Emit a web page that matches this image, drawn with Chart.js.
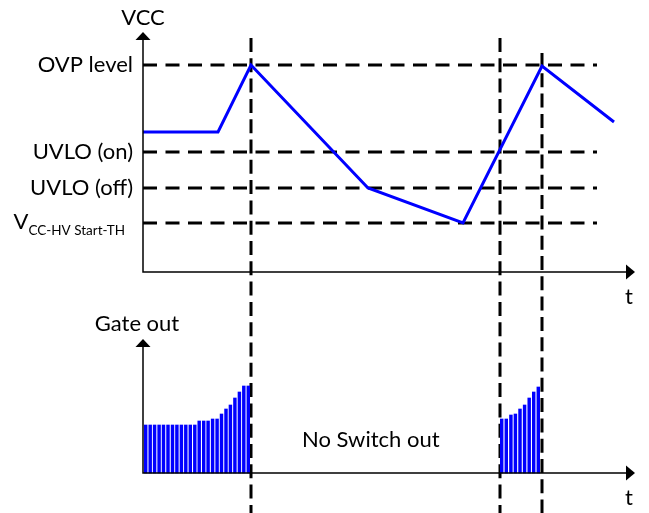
<!DOCTYPE html>
<html>
<head>
<meta charset="utf-8">
<script src="https://cdn.jsdelivr.net/npm/chart.js@4.4.1/dist/chart.umd.min.js"></script>
<style>
  html, body { margin: 0; padding: 0; background: #ffffff; }
  #wrap { width: 649px; height: 513px; position: relative; }
</style>
</head>
<body>
<div id="wrap"><canvas id="c"></canvas></div>
<script>
// ---- data (time in arbitrary units, VCC / gate in arbitrary units) ----
const thresholdNames  = ['OVP level', 'UVLO (on)', 'UVLO (off)', 'V'];
const thresholdSubs   = ['', '', '', 'CC-HV Start-TH'];
const thresholdLevels = [20.7, 12.0, 8.4, 4.9];

const vccTimes  = [0, 7.5, 10.8, 22.5, 32.0, 39.9, 47.1];
const vccValues = [14.0, 14.0, 20.7, 8.4, 4.9, 20.6, 15.0];

const timeMarkers = [10.8, 35.7, 39.9];

const burst1Times  = [0.27, 0.72, 1.16, 1.61, 2.05, 2.50, 2.95, 3.39, 3.84, 4.28, 4.73, 5.18,
                      5.62, 6.07, 6.51, 6.96, 7.41, 7.85, 8.30, 8.74, 9.19, 9.64, 10.08, 10.53];
const burst1Levels = [4.8, 4.8, 4.8, 4.8, 4.8, 4.8, 4.8, 4.8, 4.8, 4.8, 4.8, 4.8,
                      5.2, 5.2, 5.2, 5.4, 5.4, 5.9, 6.4, 6.8, 7.5, 8.1, 8.7, 8.7];

const burst2Times  = [35.87, 36.33, 36.79, 37.24, 37.70, 38.16, 38.62, 39.07, 39.53];
const burst2Levels = [5.4, 5.4, 5.8, 5.9, 6.4, 6.8, 7.5, 8.1, 8.6];

const axisLabels = { vcc: 'VCC', gate: 'Gate out', time: 't', note: 'No Switch out' };

// ---- build chart ----
const toPts = (xs, ys) => xs.map((t, i) => ({ x: t, y: ys[i] }));
const BLUE = '#0000FF';
const FONT = 'Lato, "Open Sans", sans-serif';

const diagramPlugin = {
  id: 'diagram',
  beforeDatasetsDraw(chart, args, o) {
    const { ctx } = chart;
    const { x, yV } = chart.scales;
    ctx.save();
    ctx.strokeStyle = '#000';
    ctx.lineWidth = 3;
    ctx.lineCap = 'butt';
    ctx.setLineDash([14, 8.5]);
    const x0 = x.getPixelForValue(0);
    const x1 = x.getPixelForValue(o.thresholdEnd);
    thresholdLevels.forEach(v => {
      const py = Math.round(yV.getPixelForValue(v));
      ctx.beginPath(); ctx.moveTo(x0, py); ctx.lineTo(x1, py); ctx.stroke();
    });
    ctx.setLineDash([14, 6.3]);
    timeMarkers.forEach((t, i) => {
      const px = Math.round(x.getPixelForValue(t));
      ctx.beginPath();
      ctx.moveTo(px, yV.getPixelForValue(o.markerTop[i]));
      ctx.lineTo(px, chart.height);
      ctx.stroke();
    });
    ctx.restore();
  },
  afterDatasetsDraw(chart, args, o) {
    const { ctx } = chart;
    const { x, yV, yG } = chart.scales;
    const x0 = x.getPixelForValue(0);
    const xEnd = x.getPixelForValue(o.timeEnd);
    ctx.save();
    ctx.strokeStyle = '#000';
    ctx.fillStyle = '#000';
    ctx.lineWidth = 1.5;
    ctx.setLineDash([]);
    const drawAxes = (yScale, topVal) => {
      const y0 = yScale.getPixelForValue(0);
      const yTop = yScale.getPixelForValue(topVal);
      ctx.beginPath();
      ctx.moveTo(x0, yTop + 6); ctx.lineTo(x0, y0); ctx.lineTo(xEnd - 6, y0);
      ctx.stroke();
      // up arrow
      ctx.beginPath();
      ctx.moveTo(x0, yTop); ctx.lineTo(x0 - 7.5, yTop + 8); ctx.lineTo(x0 + 7.5, yTop + 8);
      ctx.closePath(); ctx.fill();
      // right arrow
      ctx.beginPath();
      ctx.moveTo(xEnd, y0); ctx.lineTo(xEnd - 9, y0 - 7.5); ctx.lineTo(xEnd - 9, y0 + 7.5);
      ctx.closePath(); ctx.fill();
      return y0;
    };
    const yV0 = drawAxes(yV, o.vccTop);
    const yG0 = drawAxes(yG, o.gateTop);

    ctx.font = '22px ' + FONT;
    ctx.textBaseline = 'middle';
    // threshold labels
    thresholdLevels.forEach((v, i) => {
      const py = yV.getPixelForValue(v);
      if (!thresholdSubs[i]) {
        ctx.textAlign = 'right';
        ctx.fillText(thresholdNames[i], x0 - 10, py);
      } else {
        ctx.font = '13.5px ' + FONT;
        ctx.textAlign = 'right';
        const subRight = x0 - 18;
        const w = ctx.measureText(thresholdSubs[i]).width;
        ctx.fillText(thresholdSubs[i], subRight, py + 8);
        ctx.font = '22px ' + FONT;
        ctx.fillText(thresholdNames[i], subRight - w, py - 1);
      }
    });
    ctx.textAlign = 'center';
    ctx.fillText(axisLabels.vcc, x0, yV.getPixelForValue(o.vccTop) - 14);
    ctx.fillText(axisLabels.gate, x0 - 6, yG.getPixelForValue(o.gateTop) - 15);
    ctx.fillText(axisLabels.time, xEnd - 6, yV0 + 25);
    ctx.fillText(axisLabels.time, xEnd - 6, yG0 + 25);
    ctx.textAlign = 'left';
    ctx.fillText(axisLabels.note, x.getPixelForValue(o.noteAt[0]), yG.getPixelForValue(o.noteAt[1]));
    ctx.restore();
  }
};

new Chart(document.getElementById('c'), {
  type: 'line',
  data: {
    datasets: [
      {
        type: 'line', label: 'VCC', data: toPts(vccTimes, vccValues),
        xAxisID: 'x', yAxisID: 'yV', borderColor: BLUE, borderWidth: 3,
        pointRadius: 0, tension: 0, fill: false, borderJoinStyle: 'miter'
      },
      {
        type: 'bar', label: 'Gate burst 1', data: toPts(burst1Times, burst1Levels),
        xAxisID: 'x', yAxisID: 'yG', backgroundColor: BLUE, barThickness: 2.8, grouped: false
      },
      {
        type: 'bar', label: 'Gate burst 2', data: toPts(burst2Times, burst2Levels),
        xAxisID: 'x', yAxisID: 'yG', backgroundColor: BLUE, barThickness: 2.8, grouped: false
      }
    ]
  },
  options: {
    responsive: true, maintainAspectRatio: false, animation: false,
    devicePixelRatio: 1,
    layout: { padding: 0 },
    plugins: {
      legend: { display: false }, tooltip: { enabled: false },
      diagram: {
        thresholdEnd: 45.4, markerTop: [23.4, 23.4, 21.9], timeEnd: 49.2,
        vccTop: 24.0, gateTop: 13.4, noteAt: [15.9, 3.3]
      }
    },
    scales: {
      x:  { type: 'linear', min: -14.3, max: 50.6, display: false, offset: false },
      yV: { type: 'linear', min: -24.1, max: 27.2, display: false },
      yG: { type: 'linear', min: -4.0, max: 47.3, display: false }
    }
  },
  plugins: [diagramPlugin]
});
</script>
</body>
</html>
